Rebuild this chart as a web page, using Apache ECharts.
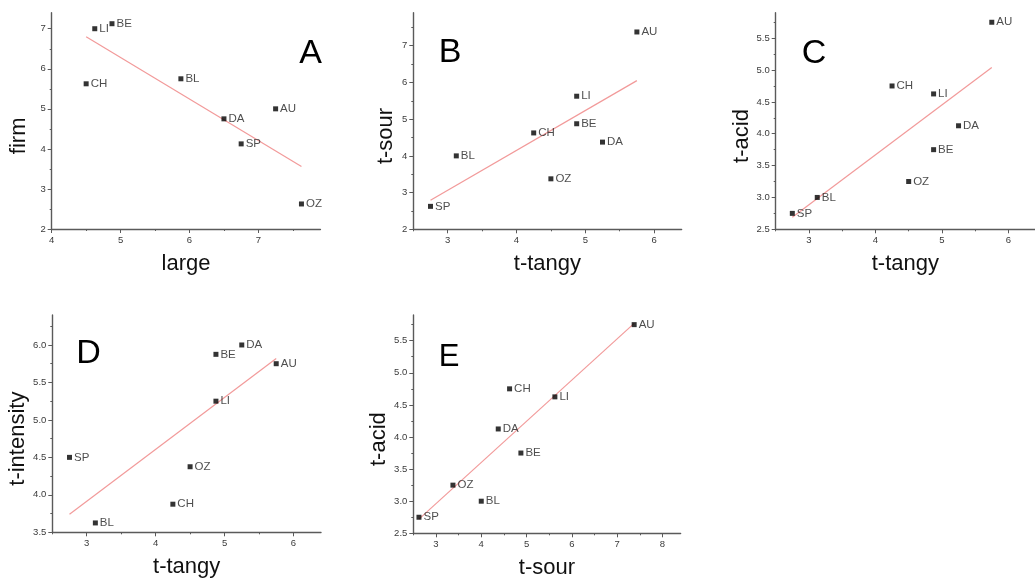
<!DOCTYPE html>
<html>
<head>
<meta charset="utf-8">
<script src="https://cdn.jsdelivr.net/npm/echarts@6/dist/echarts.min.js"></script>
<style>
html,body{margin:0;padding:0;background:#fff;}
#chart{width:1035px;height:581px;}
</style>
</head>
<body>
<div id="chart"></div>
<script>
// ---- data ----
const products   = ['AU', 'BE', 'BL', 'CH', 'DA', 'LI', 'OZ', 'SP'];
const large      = [7.25, 4.875, 5.875, 4.5, 6.5, 4.625, 7.625, 6.75];
const firm       = [5.0, 7.125, 5.75, 5.625, 4.75, 7.0, 2.625, 4.125];
const tTangy     = [5.75, 4.875, 3.125, 4.25, 5.25, 4.875, 4.5, 2.75];
const tSour      = [7.375, 4.875, 4.0, 4.625, 4.375, 5.625, 3.375, 2.625];
const tAcid      = [5.75, 3.75, 3.0, 4.75, 4.125, 4.625, 3.25, 2.75];
const tIntensity = [5.75, 5.875, 3.625, 3.875, 6.0, 5.25, 4.375, 4.5];

// fitted lines (x, y at the two ends)
const fitA = [[4.5, 6.80], [7.625, 3.56]];
const fitB = [[2.75, 2.79], [5.75, 6.05]];
const fitC = [[2.75, 2.69], [5.75, 5.04]];
const fitD = [[2.75, 3.74], [5.75, 5.82]];
const fitE = [[2.625, 2.72], [7.375, 5.77]];

// tick labels
const xTicksA = [4, 5, 6, 7];           const xMinorA = [4.5, 5.5, 6.5, 7.5];
const yTicksA = [2, 3, 4, 5, 6, 7];     const yMinorA = [2.5, 3.5, 4.5, 5.5, 6.5];
const xTicksB = [3, 4, 5, 6];           const xMinorB = [2.5, 3.5, 4.5, 5.5];
const yTicksB = [2, 3, 4, 5, 6, 7];     const yMinorB = [2.5, 3.5, 4.5, 5.5, 6.5, 7.5];
const xTicksC = [3, 4, 5, 6];           const xMinorC = [2.5, 3.5, 4.5, 5.5];
const yTicksC = [2.5, 3.0, 3.5, 4.0, 4.5, 5.0, 5.5]; const yMinorC = [2.75, 3.25, 3.75, 4.25, 4.75, 5.25, 5.75];
const xTicksD = [3, 4, 5, 6];           const xMinorD = [2.5, 3.5, 4.5, 5.5];
const yTicksD = [3.5, 4.0, 4.5, 5.0, 5.5, 6.0]; const yMinorD = [3.75, 4.25, 4.75, 5.25, 5.75, 6.25];
const xTicksE = [3, 4, 5, 6, 7, 8];     const xMinorE = [2.5, 3.5, 4.5, 5.5, 6.5, 7.5];
const yTicksE = [2.5, 3.0, 3.5, 4.0, 4.5, 5.0, 5.5]; const yMinorE = [2.75, 3.25, 3.75, 4.25, 4.75, 5.25, 5.75];

// ---- layout / styling ----
const panels = [
  {letter: 'A', x: large,  y: firm,       xName: 'large',   yName: 'firm',
   xr: [4, 7.9], yr: [2, 7.4], xt: xTicksA, xm: xMinorA, yt: yTicksA, ym: yMinorA, fit: fitA, dec: 0,
   box: [51.7, 12.7, 268.7, 216.3], yGap: 22, letterPos: [310.5, 53.5], letterSize: 34},
  {letter: 'B', x: tTangy, y: tSour,      xName: 't-tangy', yName: 't-sour',
   xr: [2.5, 6.4], yr: [2, 7.9], xt: xTicksB, xm: xMinorB, yt: yTicksB, ym: yMinorB, fit: fitB, dec: 0,
   box: [413.3, 12.7, 268.3, 216.6], yGap: 16, letterPos: [450, 52.5], letterSize: 34},
  {letter: 'C', x: tTangy, y: tAcid,      xName: 't-tangy', yName: 't-acid',
   xr: [2.5, 6.4], yr: [2.5, 5.9], xt: xTicksC, xm: xMinorC, yt: yTicksC, ym: yMinorC, fit: fitC, dec: 1,
   box: [775.7, 12.7, 268, 216.6], yGap: 23, letterPos: [814, 53.5], letterSize: 34},
  {letter: 'D', x: tTangy, y: tIntensity, xName: 't-tangy', yName: 't-intensity',
   xr: [2.5, 6.4], yr: [3.5, 6.4], xt: xTicksD, xm: xMinorD, yt: yTicksD, ym: yMinorD, fit: fitD, dec: 1,
   box: [52.3, 315, 268.7, 217.3], yGap: 23, letterPos: [88.5, 353.5], letterSize: 34},
  {letter: 'E', x: tSour,  y: tAcid,      xName: 't-sour',  yName: 't-acid',
   xr: [2.5, 8.4], yr: [2.5, 5.9], xt: xTicksE, xm: xMinorE, yt: yTicksE, ym: yMinorE, fit: fitE, dec: 1,
   box: [413.3, 315, 267.3, 218.3], yGap: 23, letterPos: [449, 357], letterSize: 31}
];

const FONT = '"Liberation Sans", Arial, sans-serif';
const axisColor = '#5a5a5a';
const grids = [], xAxes = [], yAxes = [], series = [], graphics = [];

panels.forEach((p, k) => {
  grids.push({left: p.box[0], top: p.box[1], width: p.box[2], height: p.box[3], containLabel: false});
  const common = {type: 'value', gridIndex: k, splitLine: {show: false}};
  // main x axis
  xAxes.push(Object.assign({}, common, {
    position: 'bottom',
    min: p.xr[0], max: p.xr[1],
    name: p.xName, nameLocation: 'middle', nameGap: 24,
    nameTextStyle: {fontFamily: FONT, fontSize: 22, color: '#111'},
    axisLine: {show: true, onZero: false, lineStyle: {color: axisColor, width: 1.4}},
    axisTick: {show: true, customValues: p.xt, length: 4, lineStyle: {color: axisColor, width: 1}},
    axisLabel: {show: true, customValues: p.xt, margin: 6, fontFamily: FONT, fontSize: 9.5, color: '#3a3a3a',
                formatter: v => String(v)}
  }));
  // minor ticks x
  xAxes.push(Object.assign({}, common, {
    position: 'bottom',
    min: p.xr[0], max: p.xr[1],
    axisLine: {show: false, onZero: false},
    axisTick: {show: true, customValues: p.xm, length: 2, lineStyle: {color: axisColor, width: 1}},
    axisLabel: {show: false}
  }));
  // main y axis
  yAxes.push(Object.assign({}, common, {
    position: 'left',
    min: p.yr[0], max: p.yr[1],
    name: p.yName, nameLocation: 'middle', nameGap: p.yGap, nameRotate: 90,
    nameTextStyle: {fontFamily: FONT, fontSize: 22, color: '#111', padding: [0, 30, 0, 0]},
    axisLine: {show: true, onZero: false, lineStyle: {color: axisColor, width: 1.4}},
    axisTick: {show: true, customValues: p.yt, length: 4, lineStyle: {color: axisColor, width: 1}},
    axisLabel: {show: true, customValues: p.yt, margin: 6, fontFamily: FONT, fontSize: 9.5, color: '#3a3a3a',
                formatter: v => Number(v).toFixed(p.dec)}
  }));
  // minor ticks y
  yAxes.push(Object.assign({}, common, {
    position: 'left',
    min: p.yr[0], max: p.yr[1],
    axisLine: {show: false, onZero: false},
    axisTick: {show: true, customValues: p.ym, length: 2, lineStyle: {color: axisColor, width: 1}},
    axisLabel: {show: false}
  }));

  series.push({
    type: 'line', xAxisIndex: 2 * k, yAxisIndex: 2 * k,
    data: p.fit, showSymbol: false, symbol: 'none', silent: true, z: 1,
    lineStyle: {color: '#f29a9a', width: 1.2}
  });
  series.push({
    type: 'scatter', xAxisIndex: 2 * k, yAxisIndex: 2 * k, z: 3,
    symbol: 'rect', symbolSize: 5,
    itemStyle: {color: '#000'},
    data: products.map((name, i) => ({name: name, value: [p.x[i], p.y[i]]})),
    label: {show: true, position: 'right', distance: 2, formatter: '{b}',
            fontFamily: FONT, fontSize: 11.5, color: '#222'}
  });

  graphics.push({
    type: 'text', x: p.letterPos[0], y: p.letterPos[1], z: 10,
    style: {text: p.letter, fontFamily: FONT, fontSize: p.letterSize, fill: '#000',
            textAlign: 'center', textVerticalAlign: 'middle'}
  });
});

const chart = echarts.init(document.getElementById('chart'), null, {renderer: 'canvas'});
chart.setOption({
  animation: false,
  backgroundColor: '#fff',
  grid: grids,
  xAxis: xAxes,
  yAxis: yAxes,
  series: series,
  graphic: graphics
});
</script>
</body>
</html>
